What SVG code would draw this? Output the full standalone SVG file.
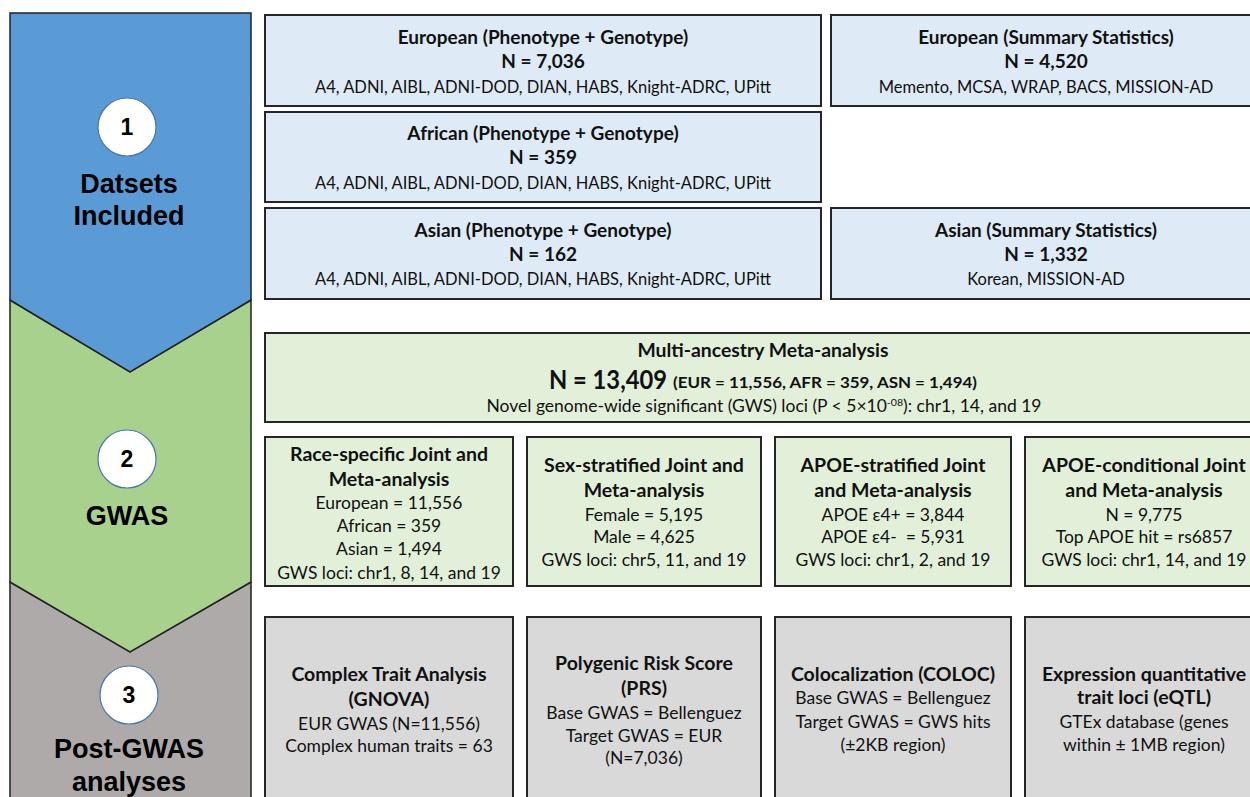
<svg xmlns="http://www.w3.org/2000/svg" width="1250" height="797" viewBox="0 0 1250 797">
<style>
.box{stroke:#262626;stroke-width:2}
.b1{fill:#deebf7}.b2{fill:#e2f0d9}.b3{fill:#d9d9d9}
text{font-family:Lato,"Open Sans","Liberation Sans",sans-serif;fill:#111;text-anchor:middle}
.h{font-weight:bold;font-size:19px}
.h2{font-weight:bold;font-size:19.5px}
.t{font-size:16.5px}
.t2{font-size:17.5px}
.lab{font-family:"Liberation Sans",Arial,sans-serif;font-weight:bold;font-size:27px;fill:#000}
.num{font-family:"Liberation Sans",Arial,sans-serif;font-weight:bold;font-size:23px;fill:#000}
.circ{fill:#fff;stroke:#4a76a8;stroke-width:1.2}
.stage{stroke:#222;stroke-width:1.5}
</style>
<rect width="1250" height="797" fill="#fff"/>
<g id="stages">
<polygon class="stage" fill="#aeaaaa" points="10,582 130,652 251,582 251,800 10,800"/>
<polygon class="stage" fill="#a9d18e" points="10,300 130,372 251,300 251,582 130,652 10,582"/>
<polygon class="stage" fill="#5b9bd5" points="10,13 251,13 251,300 130,372 10,300"/>
</g>
<g id="stage1">
<circle class="circ" cx="127" cy="127" r="29"/>
<text class="num" x="127" y="135">1</text>
<text class="lab" x="129" y="193">Datsets</text>
<text class="lab" x="129" y="225">Included</text>
</g>
<g id="stage2">
<circle class="circ" cx="127" cy="459" r="29"/>
<text class="num" x="127" y="467">2</text>
<text class="lab" x="127" y="525">GWAS</text>
</g>
<g id="stage3">
<circle class="circ" cx="129" cy="695" r="29"/>
<text class="num" x="129" y="703">3</text>
<text class="lab" x="129" y="758">Post-GWAS</text>
<text class="lab" x="129" y="791">analyses</text>
</g>
<g id="eur-pg">
<rect class="box b1" x="265" y="15" width="556" height="91"/>
<text class="h" x="543" y="44">European (Phenotype + Genotype)</text>
<text class="h" x="543" y="68">N = 7,036</text>
<text class="t" x="543" y="93">A4, ADNI, AIBL, ADNI-DOD, DIAN, HABS, Knight-ADRC, UPitt</text>
</g>
<g id="eur-ss">
<rect class="box b1" x="831" y="15" width="440" height="91"/>
<text class="h" x="1046" y="44">European (Summary Statistics)</text>
<text class="h" x="1046" y="68">N = 4,520</text>
<text class="t" x="1046" y="93">Memento, MCSA, WRAP, BACS, MISSION-AD</text>
</g>
<g id="afr-pg">
<rect class="box b1" x="265" y="112" width="556" height="90"/>
<text class="h" x="543" y="140">African (Phenotype + Genotype)</text>
<text class="h" x="543" y="164">N = 359</text>
<text class="t" x="543" y="189">A4, ADNI, AIBL, ADNI-DOD, DIAN, HABS, Knight-ADRC, UPitt</text>
</g>
<g id="asn-pg">
<rect class="box b1" x="265" y="208" width="556" height="91"/>
<text class="h" x="543" y="237">Asian (Phenotype + Genotype)</text>
<text class="h" x="543" y="261">N = 162</text>
<text class="t" x="543" y="285">A4, ADNI, AIBL, ADNI-DOD, DIAN, HABS, Knight-ADRC, UPitt</text>
</g>
<g id="asn-ss">
<rect class="box b1" x="831" y="208" width="440" height="91"/>
<text class="h" x="1046" y="237">Asian (Summary Statistics)</text>
<text class="h" x="1046" y="261">N = 1,332</text>
<text class="t" x="1046" y="285">Korean, MISSION-AD</text>
</g>
<g id="multi">
<rect class="box b2" x="265" y="333" width="1006" height="89"/>
<text class="h" x="763" y="357" textLength="251" lengthAdjust="spacingAndGlyphs">Multi-ancestry Meta-analysis</text>
<text x="549" y="389" font-weight="bold" font-size="26px" style="text-anchor:start" textLength="118" lengthAdjust="spacingAndGlyphs">N = 13,409</text>
<text x="673" y="388" font-weight="bold" font-size="16px" style="text-anchor:start" textLength="304" lengthAdjust="spacingAndGlyphs">(EUR = 11,556, AFR = 359, ASN = 1,494)</text>
<text class="t" x="764" y="412" textLength="555" lengthAdjust="spacingAndGlyphs">Novel genome-wide significant (GWS) loci (P &lt; 5×10<tspan font-size="10px" dy="-6">-08</tspan><tspan dy="6">): chr1, 14, and 19</tspan></text>
</g>
<g id="race">
<rect class="box b2" x="265" y="437" width="248" height="149"/>
<text class="h2" x="389" y="461">Race-specific Joint and</text>
<text class="h2" x="389" y="486">Meta-analysis</text>
<text class="t2" x="389" y="509">European = 11,556</text>
<text class="t2" x="389" y="532">African = 359</text>
<text class="t2" x="389" y="555">Asian = 1,494</text>
<text class="t2" x="389" y="579">GWS loci: chr1, 8, 14, and 19</text>
</g>
<g id="sex">
<rect class="box b2" x="527" y="437" width="234" height="149"/>
<text class="h2" x="644" y="472">Sex-stratified Joint and</text>
<text class="h2" x="644" y="497">Meta-analysis</text>
<text class="t2" x="644" y="521">Female = 5,195</text>
<text class="t2" x="644" y="543">Male = 4,625</text>
<text class="t2" x="644" y="566">GWS loci: chr5, 11, and 19</text>
</g>
<g id="apoe-strat">
<rect class="box b2" x="775" y="437" width="236" height="149"/>
<text class="h2" x="893" y="472">APOE-stratified Joint</text>
<text class="h2" x="893" y="497">and Meta-analysis</text>
<text class="t2" x="893" y="521">APOE ε4+ = 3,844</text>
<text class="t2" x="893" y="543" xml:space="preserve">APOE ε4-  = 5,931</text>
<text class="t2" x="893" y="566">GWS loci: chr1, 2, and 19</text>
</g>
<g id="apoe-cond">
<rect class="box b2" x="1025" y="437" width="246" height="149"/>
<text class="h2" x="1144" y="472">APOE-conditional Joint</text>
<text class="h2" x="1144" y="497">and Meta-analysis</text>
<text class="t2" x="1144" y="521">N = 9,775</text>
<text class="t2" x="1144" y="543">Top APOE hit = rs6857</text>
<text class="t2" x="1144" y="566">GWS loci: chr1, 14, and 19</text>
</g>
<g id="gnova">
<rect class="box b3" x="265" y="617" width="248" height="200"/>
<text class="h2" x="389" y="681">Complex Trait Analysis</text>
<text class="h2" x="389" y="706">(GNOVA)</text>
<text class="t2" x="389" y="730">EUR GWAS (N=11,556)</text>
<text class="t2" x="389" y="752">Complex human traits = 63</text>
</g>
<g id="prs">
<rect class="box b3" x="527" y="617" width="234" height="200"/>
<text class="h2" x="644" y="670">Polygenic Risk Score</text>
<text class="h2" x="644" y="695">(PRS)</text>
<text class="t2" x="644" y="719">Base GWAS = Bellenguez</text>
<text class="t2" x="644" y="742">Target GWAS = EUR</text>
<text class="t2" x="644" y="764">(N=7,036)</text>
</g>
<g id="coloc">
<rect class="box b3" x="775" y="617" width="236" height="200"/>
<text class="h2" x="893" y="681">Colocalization (COLOC)</text>
<text class="t2" x="893" y="704">Base GWAS = Bellenguez</text>
<text class="t2" x="893" y="728">Target GWAS = GWS hits</text>
<text class="t2" x="893" y="751">(±2KB region)</text>
</g>
<g id="eqtl">
<rect class="box b3" x="1025" y="617" width="246" height="200"/>
<text class="h2" x="1144" y="681">Expression quantitative</text>
<text class="h2" x="1144" y="704">trait loci (eQTL)</text>
<text class="t2" x="1144" y="728">GTEx database (genes</text>
<text class="t2" x="1144" y="751">within ± 1MB region)</text>
</g>
<g id="connectors"></g>
</svg>
